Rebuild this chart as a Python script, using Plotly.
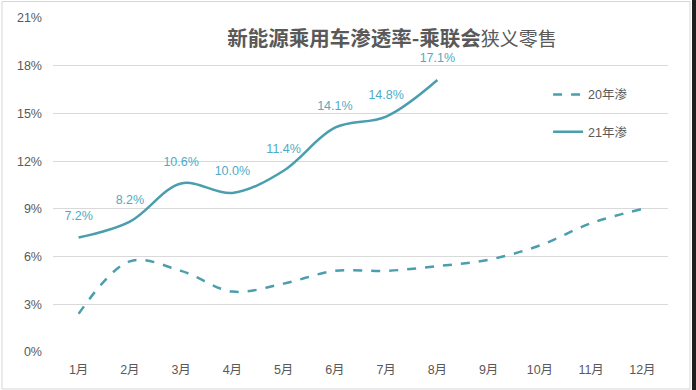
import plotly.graph_objects as go

months = ["1月", "2月", "3月", "4月", "5月", "6月", "7月", "8月", "9月", "10月", "11月", "12月"]
rate_2020 = [2.4, 5.7, 5.1, 3.8, 4.3, 5.1, 5.1, 5.4, 5.8, 6.7, 8.1, 9.0]
rate_2021 = [7.2, 8.2, 10.6, 10.0, 11.4, 14.1, 14.8, 17.1]
y_ticks = [0, 3, 6, 9, 12, 15, 18, 21]

line_color = "#4a9ead"
label_color = "#4fabc4"
font_family = "Liberation Sans, Noto Sans CJK SC, sans-serif"

fig = go.Figure()
fig.add_trace(go.Scatter(
    x=months, y=rate_2020, name="20年渗", mode="lines",
    line=dict(color=line_color, width=2.5, dash="dash", shape="spline", smoothing=1.0),
    legendgroup="a",
))
fig.add_trace(go.Scatter(
    x=months[:len(rate_2021)], y=rate_2021, name="21年渗", mode="lines+markers+text",
    line=dict(color=line_color, width=2.5, shape="spline", smoothing=1.0),
    marker=dict(size=22, color="rgba(0,0,0,0)"),
    text=[f"{v:.1f}%" for v in rate_2021], textposition="top center",
    textfont=dict(color=label_color, size=12.5, family=font_family),
    legendgroup="b",
))

W, H = 696, 390
fig.update_layout(
    width=W, height=H,
    margin=dict(l=53, r=28, t=18, b=38),
    paper_bgcolor="white", plot_bgcolor="white",
    font=dict(family=font_family, color="#595959", size=12),
    title=dict(
        text="<b>新能源乘用车渗透率-乘联会</b><span style='font-size:19px'>狭义零售</span>",
        x=392 / W, xanchor="center", y=1 - 39 / H, yanchor="middle",
        font=dict(size=20.5, color="#595959", family="Noto Sans CJK SC, sans-serif"),
    ),
    xaxis=dict(
        type="category", range=[-0.5, 11.5], showgrid=False, zeroline=False,
        showline=False, ticks="", ticklabelstandoff=8,
        tickfont=dict(size=12.5, color="#595959"),
    ),
    yaxis=dict(
        range=[0, 21], tickvals=y_ticks, ticktext=[f"{v}%" for v in y_ticks],
        showgrid=True, gridcolor="#d9d9d9", gridwidth=1, zeroline=False,
        showline=False, ticks="", ticklabelstandoff=10,
        tickfont=dict(size=12.5, color="#595959"),
    ),
    legend=dict(
        x=0.805, y=0.815, xanchor="left", yanchor="top",
        bgcolor="rgba(0,0,0,0)", font=dict(size=12.5, color="#595959"),
        tracegroupgap=18, itemwidth=30,
    ),
    shapes=[
        dict(type="rect", xref="paper", yref="paper",
             x0=(2 - 53) / 615, x1=(690 - 53) / 615,
             y0=-(389 - 352) / 334, y1=1 + (18 - 1.5) / 334,
             line=dict(color="#d6d6d6", width=1)),
        dict(type="rect", xref="paper", yref="paper",
             x0=(692 - 53) / 615, x1=(700 - 53) / 615,
             y0=-0.2, y1=1.1, line=dict(width=0), fillcolor="#1e1e1e"),
    ],
)

fig.write_html("out.html", config={"displayModeBar": False},
               post_script="document.body.style.margin='0';")
